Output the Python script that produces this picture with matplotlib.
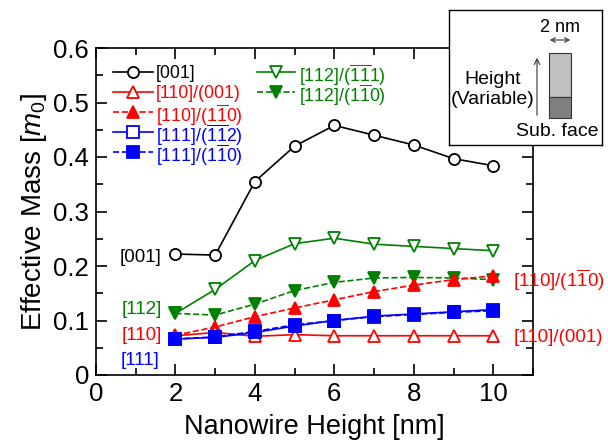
#!/usr/bin/python3
'''
Effective mass vs nanowire height, several orientations
'''

#------------------
# Import
#------------------

import matplotlib
matplotlib.use('Agg')
import matplotlib.pyplot as plt
from matplotlib.patches import Rectangle, FancyArrowPatch

#------------------
# Variables
#------------------

heights = [2, 3, 4, 5, 6, 7, 8, 9, 10]

m_001 = [0.222, 0.220, 0.355, 0.420, 0.458, 0.440, 0.422, 0.397, 0.384]
m_110_001 = [0.072, 0.078, 0.071, 0.074, 0.072, 0.072, 0.072, 0.072, 0.072]
m_110_1b10 = [0.073, 0.088, 0.107, 0.123, 0.138, 0.153, 0.165, 0.175, 0.182]
m_111_1b1b2 = [0.066, 0.069, 0.078, 0.090, 0.100, 0.108, 0.112, 0.116, 0.120]
m_111_1b10 = [0.066, 0.070, 0.080, 0.092, 0.100, 0.107, 0.111, 0.115, 0.118]
m_112_1b1b1 = [0.113, 0.157, 0.210, 0.241, 0.251, 0.240, 0.236, 0.232, 0.228]
m_112_1b10 = [0.113, 0.110, 0.130, 0.155, 0.170, 0.178, 0.179, 0.178, 0.175]

BLACK, RED, BLUE, GREEN = 'black', '#ff0000', '#0000ff', '#008000'

lab_001 = '[001]'
lab_110_001 = '[110]/(001)'
lab_110_1b10 = r'[110]/(1$\mathregular{\overline{1}}$0)'
lab_111_1b1b2 = r'[111]/($\mathregular{\overline{1}\overline{1}}$2)'
lab_111_1b10 = r'[111]/(1$\mathregular{\overline{1}}$0)'
lab_112_1b1b1 = r'[112]/($\mathregular{\overline{1}\overline{1}}$1)'
lab_112_1b10 = r'[112]/(1$\mathregular{\overline{1}}$0)'

# (values, color, linestyle, marker, filled, label)
series = [
    (m_001, BLACK, '-', 'o', False, lab_001),
    (m_112_1b1b1, GREEN, '-', 'v', False, lab_112_1b1b1),
    (m_112_1b10, GREEN, '--', 'v', True, lab_112_1b10),
    (m_110_1b10, RED, '--', '^', True, lab_110_1b10),
    (m_110_001, RED, '-', '^', False, lab_110_001),
    (m_111_1b1b2, BLUE, '-', 's', False, lab_111_1b1b2),
    (m_111_1b10, BLUE, '--', 's', True, lab_111_1b10),
]

# legend layout: column 1 / column 2 entries (indices into series)
legend_col1 = [0, 4, 3, 5, 6]
legend_col2 = [1, 2]

#------------------
# Main
#------------------

plt.rcParams['font.family'] = ['Liberation Sans', 'DejaVu Sans']
plt.rcParams['mathtext.fontset'] = 'custom'
plt.rcParams['mathtext.rm'] = 'Liberation Sans'
plt.rcParams['mathtext.it'] = 'Liberation Sans:italic'

W, H = 608, 446
fig = plt.figure(figsize=(W / 100, H / 100), dpi=100)
ax = fig.add_axes([96 / W, 1 - 375 / H, 437 / W, 327 / H])

ms = 8
lw = 1.2
mew = 1.3
msize = {'o': ms, 's': ms, '^': ms + 1, 'v': ms + 1}

for vals, color, ls, mk, filled, lab in series:
    ax.plot(heights, vals, ls=ls, marker=mk, color=color, ms=msize[mk], lw=lw, mew=mew,
            mfc=color if filled else 'white', label=lab)

ax.set_xlim(0, 11)
ax.set_ylim(0, 0.6)
ax.set_xticks([0, 2, 4, 6, 8, 10])
ax.set_xticks(range(0, 12), minor=True)
ax.set_yticks([0, 0.1, 0.2, 0.3, 0.4, 0.5, 0.6])
ax.set_yticklabels(['0', '0.1', '0.2', '0.3', '0.4', '0.5', '0.6'])
ax.set_yticks([i * 0.05 for i in range(13)], minor=True)
ax.tick_params(which='both', direction='in', top=True, right=True, labelsize=18.5, width=1.2)
ax.tick_params(which='major', length=8, pad=5)
ax.tick_params(which='minor', length=5)
for s in ax.spines.values():
    s.set_linewidth(1.2)

ax.set_xlabel('Nanowire Height [nm]', fontsize=19.5, labelpad=6)
ax.set_ylabel('Effective Mass [$m_0$]', fontsize=20, labelpad=3)

# hand-built legend in figure pixels so rows stay evenly spaced
def fx(x):
    return x / W

def fy(y):
    return 1 - y / H

def legend_column(idx_list, x0, x1, xt, y_rows):
    for i, y in zip(idx_list, y_rows):
        vals, color, ls, mk, filled, lab = series[i]
        ax.plot([fx(x0), fx(x1)], [fy(y), fy(y)], ls=ls, color=color, lw=lw,
                transform=fig.transFigure, clip_on=False)
        ax.plot([fx((x0 + x1) / 2)], [fy(y)], marker=mk, color=color, ms=msize[mk], mew=mew,
                mfc=color if filled else 'white', transform=fig.transFigure, clip_on=False)
        fig.text(fx(xt), fy(y), lab, color=color, fontsize=12.8, ha='left', va='center_baseline')

legend_column(legend_col1, 113, 153, 156, [72, 92, 112, 132, 152])
legend_column(legend_col2, 257, 295, 299, [72, 92])

# side annotations
ax.text(1.66, 0.219, '[001]', color=BLACK, fontsize=13.5, ha='right', va='center_baseline')
ax.text(1.66, 0.124, '[112]', color=GREEN, fontsize=13.5, ha='right', va='center_baseline')
ax.text(1.66, 0.077, '[110]', color=RED, fontsize=13.5, ha='right', va='center_baseline')
ax.text(1.6, 0.031, '[111]', color=BLUE, fontsize=13.5, ha='right', va='center_baseline')
ax.text(10.5, 0.180, lab_110_1b10, color=RED, fontsize=13.5, ha='left', va='center_baseline', clip_on=False)
ax.text(10.5, 0.072, lab_110_001, color=RED, fontsize=13.5, ha='left', va='center_baseline', clip_on=False)

# inset schematic (pixel coords of the figure)
ins = fig.add_axes([449 / W, 1 - 145 / H, 153 / W, 135 / H])
ins.set_xlim(449, 602)
ins.set_ylim(145, 10)
ins.set_xticks([])
ins.set_yticks([])
ins.set_facecolor('white')
for s in ins.spines.values():
    s.set_linewidth(1.0)
ins.add_patch(Rectangle((549, 53), 22, 44, facecolor='#c0c0c0', edgecolor='#333333', lw=0.8))
ins.add_patch(Rectangle((549, 97), 22, 21, facecolor='#808080', edgecolor='#333333', lw=0.8))
ins.add_patch(FancyArrowPatch((547, 40), (573, 40), arrowstyle='<->', mutation_scale=8, lw=0.8, color='#333333'))
ins.add_patch(FancyArrowPatch((537, 118), (537, 55), arrowstyle='->', mutation_scale=10, lw=0.8, color='#333333'))
ins.text(560, 27, '2 nm', fontsize=13, ha='center', va='center')
ins.text(493, 79, 'Height', fontsize=14, ha='center', va='center')
ins.text(493, 99, '(Variable)', fontsize=14, ha='center', va='center')
ins.text(557, 132, 'Sub. face', fontsize=14, ha='center', va='center')

fig.savefig('out.png', dpi=100)
